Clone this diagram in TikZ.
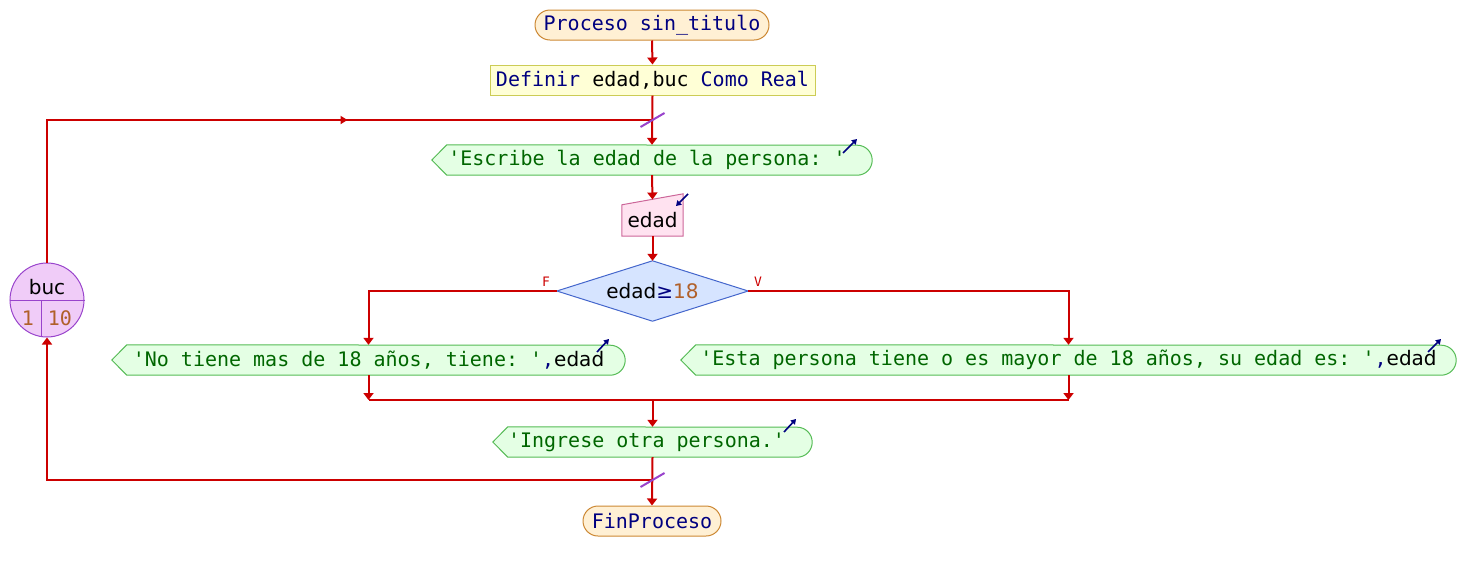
\documentclass[tikz,border=0pt]{standalone}
\usepackage{fontspec}
\setmainfont{DejaVu Sans}
\setmonofont{DejaVu Sans Mono}
\usetikzlibrary{arrows.meta,shapes.geometric,backgrounds,decorations.markings}
\definecolor{cRed}{HTML}{CC0000}
\definecolor{cKey}{HTML}{000080}
\definecolor{cStr}{HTML}{006600}
\definecolor{cNum}{HTML}{B0602A}
\definecolor{cTermF}{HTML}{FFF0D4}
\definecolor{cTermB}{HTML}{CC8833}
\definecolor{cDefF}{HTML}{FFFFD6}
\definecolor{cDefB}{HTML}{CCCC55}
\definecolor{cOutF}{HTML}{E4FFE4}
\definecolor{cOutB}{HTML}{55BB55}
\definecolor{cInF}{HTML}{FFE2F0}
\definecolor{cInB}{HTML}{CC6699}
\definecolor{cDecF}{HTML}{D6E4FF}
\definecolor{cDecB}{HTML}{4466CC}
\definecolor{cLoopF}{HTML}{F0CCF8}
\definecolor{cLoopB}{HTML}{9944CC}
\newcommand\fsz{\fontsize{20}{24}\selectfont}
\newcommand\vname[1]{{\rmfamily\color{black}#1}}
\newcommand\outshape[1]{%
  \begin{pgfonlayer}{background}
  \draw[outline] ([xshift=15pt]#1.north west) -- (#1.west) -- ([xshift=15pt]#1.south west)
    -- ([xshift=-15pt]#1.south east) arc[start angle=-90,end angle=90,radius=15pt] -- cycle;
  \end{pgfonlayer}}
\tikzset{
  flow/.style={draw=cRed,line width=2pt},
  arr/.style={flow,-{Triangle[width=10pt,length=7pt]}},
  term/.style={draw=cTermB,fill=cTermF,rounded corners=15pt,line width=1pt,inner sep=0pt,
    minimum height=30pt,font=\ttfamily\fsz},
  defbox/.style={draw=cDefB,fill=cDefF,line width=1pt,inner sep=0pt,minimum height=30pt,font=\ttfamily\fsz},
  outnode/.style={inner sep=0pt,minimum height=30pt,font=\ttfamily\fsz},
  outline/.style={draw=cOutB,fill=cOutF,line width=1pt},
  decnode/.style={inner sep=0pt,minimum width=191pt,minimum height=60pt,font=\fsz},
  txt/.style={inner sep=0pt,font=\fsz},
  icon/.style={draw=cKey,line width=1.6pt,-{Triangle[width=6pt,length=5pt]}},
  slashmk/.style={draw=cLoopB,line width=2pt},
  lbl/.style={inner sep=0pt,text=cRed,font=\ttfamily\fontsize{13}{15}\selectfont},
}
\begin{document}
\begin{tikzpicture}[x=1pt,y=-1pt]
\useasboundingbox (0,0) rectangle (1474,571);
% nodes
\node[term,minimum width=234pt] (ini) at (652,25) {\color{cKey}Proceso sin\_titulo};
\node[defbox,minimum width=325pt] (def) at (652.5,80) {\color{cKey}Definir \color{black}edad,buc \color{cKey}Como Real};
\node[outnode,minimum width=440pt] (o1) at (652,160) {\hspace*{-10pt}\color{cStr}'Escribe la edad de la persona: '};
\outshape{o1}
\node[inner sep=0pt,minimum width=61pt,minimum height=42pt] (inp) at (652.5,215) {};
\begin{pgfonlayer}{background}
\draw[draw=cInB,fill=cInF,line width=1pt] (inp.north east) -- ([yshift=-11pt]inp.north west) -- (inp.south west) -- (inp.south east) -- cycle;
\end{pgfonlayer}
\node[txt] (inptxt) at (652.5,220) {\vname{edad}};
\coordinate (inptop) at (652.5,199.5);
\node[decnode] (dec) at (652.5,291) {\vname{edad}\color{cKey}≥\color{cNum}18};
\begin{pgfonlayer}{background}
\draw[draw=cDecB,fill=cDecF,line width=1pt] (dec.north) -- (dec.east) -- (dec.south) -- (dec.west) -- cycle;
\end{pgfonlayer}
\node[lbl] (lf) at (546,282) {F};
\node[lbl] (lv) at (758,282) {V};
\node[outnode,minimum width=513pt] (o2) at (368.5,360) {\color{cStr}'No tiene mas de 18 años, tiene: '\color{cKey},\vname{edad}};
\outshape{o2}
\node[outnode,minimum width=775pt] (o3) at (1068.5,360) {\color{cStr}'Esta persona tiene o es mayor de 18 años, su edad es: '\color{cKey},\vname{edad}};
\outshape{o3}
\node[outnode,minimum width=319pt] (o4) at (652.5,442) {\hspace*{-12pt}\color{cStr}'Ingrese otra persona.'};
\outshape{o4}
\node[term,minimum width=138pt] (fin) at (652,521) {\color{cKey}FinProceso};
% loop counter
\node[circle,minimum size=74pt,inner sep=0pt,fill=cLoopF,draw=cLoopB,line width=1pt] (buc) at (47,300) {};
\draw[cLoopB,line width=1pt] (buc.west) -- (buc.east);
\draw[cLoopB,line width=1pt] (41,300) -- (41,336.5);
\node[txt] (bucv) at (47,287) {buc};
\node[txt,text=cNum,font=\ttfamily\fsz] (bucs) at (28,318) {1};
\node[txt,text=cNum,font=\ttfamily\fsz] (buce) at (60,318) {10};
% coordinates
\coordinate (lt) at (652.5,120);
\coordinate (lb) at (652.5,480);
\coordinate (jl) at (368.5,400);
\coordinate (jr) at (1068.5,400);
\coordinate (jm) at (652.5,400);
% connectors
\draw[arr] (ini.south) -- (def.north);
\draw[arr] (def.south) -- (o1.north);
\draw[arr] (o1.south) -- (inptop);
\draw[arr] (inp.south) -- (dec.north);
\draw[arr] (dec.west) -| (o2.north);
\draw[arr] (dec.east) -| (o3.north);
\draw[arr] (o2.south) -- (jl);
\draw[arr] (o3.south) -- (jr);
\draw[flow] (jl) -- (jr);
\draw[arr] (jm) -- (o4.north);
\draw[arr] (o4.south) -- (fin.north);
\draw[arr] (lb) -| (buc.south);
\draw[flow,postaction={decorate},decoration={markings,
  mark=at position 443pt with {\arrow{Triangle[width=8pt,length=7pt]}}}] (buc.north) |- (lt);
% loop marks
\draw[slashmk] ([shift={(-12,7)}]lt) -- ([shift={(12,-7)}]lt);
\draw[slashmk] ([shift={(-12,7)}]lb) -- ([shift={(12,-7)}]lb);
% io icons
\draw[icon] (843,153) -- (857,139);
\draw[icon] (597,352) -- (609,339);
\draw[icon] (1428,352) -- (1441,339);
\draw[icon] (784,432) -- (796,419);
\draw[icon] (688,194) -- (676,206);
\end{tikzpicture}
\end{document}
